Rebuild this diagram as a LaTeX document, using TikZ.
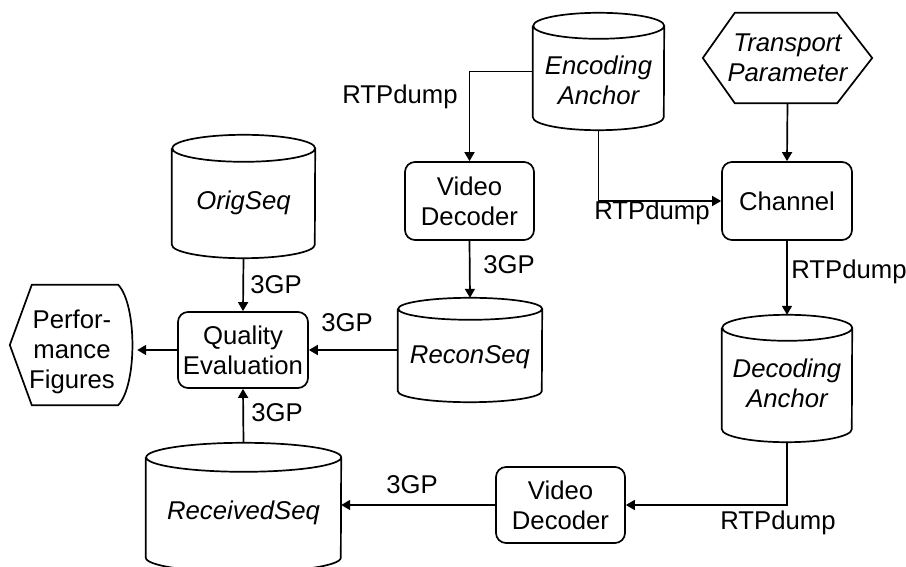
\documentclass[tikz,border=0pt]{standalone}
\usepackage{fontspec}
\setmainfont{Liberation Sans}
\usetikzlibrary{calc,arrows.meta}
\tikzset{
  ln/.style={line width=1.7pt},
  txt/.style={font=\fontsize{25.7pt}{30pt}\selectfont, align=center, inner sep=0pt},
  itxt/.style={txt, font=\fontsize{25.7pt}{30pt}\selectfont\itshape},
  procbox/.style={txt, ln, draw, rounded corners=10pt},
  shapebox/.style={inner sep=0pt, draw=none},
  arr/.style={ln, -{Triangle[length=9pt,width=10pt]}},
}
\newcommand\drawcyl[3]{%
  \draw[ln] ($(#1.north west)+(0,-#3)$) -- ($(#1.south west)+(0,#3)$)
    arc[start angle=180,end angle=360,x radius=#2pt,y radius=#3pt]
    -- ($(#1.north east)+(0,-#3)$)
    arc[start angle=0,end angle=180,x radius=#2pt,y radius=#3pt]
    arc[start angle=180,end angle=360,x radius=#2pt,y radius=#3pt];}
\begin{document}
\begin{tikzpicture}[x=1pt,y=1pt]
\path[use as bounding box, fill=white] (0,0) rectangle (906,566);

% process boxes
\node[procbox, minimum width=129pt, minimum height=78pt] (vd1) at (469.5,365) {Video\\Decoder};
\node[procbox, minimum width=130pt, minimum height=78pt] (ch) at (787,365) {Channel};
\node[procbox, minimum width=130pt, minimum height=76pt] (q) at (243,216) {Quality\\Evaluation};
\node[procbox, minimum width=129pt, minimum height=76pt] (vd2) at (560.5,61) {Video\\Decoder};

% cylinders
\node[shapebox, minimum width=143pt, minimum height=123pt] (orig) at (243.5,369.5) {};
\drawcyl{orig}{71.5}{13.5}
\node[itxt] (origt) at (243.5,363) {OrigSeq};

\node[shapebox, minimum width=131pt, minimum height=117pt] (enca) at (598.5,494.5) {};
\drawcyl{enca}{65.5}{13}
\node[itxt] (encat) at (598.5,486) {Encoding\\Anchor};

\node[shapebox, minimum width=144pt, minimum height=104pt] (recon) at (470,216) {};
\drawcyl{recon}{72}{11}
\node[itxt] (recont) at (470,209) {ReconSeq};

\node[shapebox, minimum width=130pt, minimum height=127pt] (deca) at (787,187.5) {};
\drawcyl{deca}{65}{13}
\node[itxt] (decat) at (787,183) {Decoding\\Anchor};

\node[shapebox, minimum width=195pt, minimum height=129pt] (recv) at (243.5,58.5) {};
\drawcyl{recv}{97.5}{14.5}
\node[itxt] (recvt) at (243.5,53) {ReceivedSeq};

% transport parameter hexagon
\node[shapebox, minimum width=169pt, minimum height=90pt] (tp) at (787.5,508) {};
\draw[ln] (tp.west) -- ($(tp.north west)+(32,0)$) -- ($(tp.north east)+(-35,0)$)
  -- (tp.east) -- ($(tp.south east)+(-35,0)$) -- ($(tp.south west)+(32,0)$) -- cycle;
\node[itxt] (tpt) at (787.5,508) {Transport\\Parameter};

% performance figures display shape
\node[shapebox, minimum width=122pt, minimum height=120pt] (pf) at (71,221) {};
\draw[ln] (pf.west) -- ($(pf.north west)+(22,0)$) -- ($(pf.north east)+(-14,0)$)
  .. controls ($(pf.north east)+(5,-20)$) and ($(pf.south east)+(5,20)$) .. ($(pf.south east)+(-14,0)$)
  -- ($(pf.south west)+(22,0)$) -- cycle;
\node[txt] (pft) at (72,214.5) {Perfor-\\mance\\Figures};

% connectors
\draw[arr] (enca.west) -| (vd1.north);
\draw[arr] (enca.south) |- (ch.west);
\draw[arr] (tp.south) -- (ch.north);
\draw[arr] (ch.south) -- (deca.north);
\draw[arr] (deca.south) |- (vd2.east);
\draw[arr] (vd2.west) -- (vd2.west -| recv.east);
\draw[arr] (recv.north) -- (q.south);
\draw[arr] (orig.south) -- (q.north);
\draw[arr] (vd1.south) -- (recon.north);
\draw[arr] (recon.west) -- (q.east);
\draw[arr] (q.west) -- ($(q.west -| pf.east)+(5,0)$);

% connector labels
\node[txt] (l1) at (400,469) {RTPdump};
\node[txt] (l2) at (652,353) {RTPdump};
\node[txt] (l3) at (849,294) {RTPdump};
\node[txt] (l4) at (778,43) {RTPdump};
\node[txt] (l5) at (412,81) {3GP};
\node[txt] (l6) at (277,153) {3GP};
\node[txt] (l7) at (276,281) {3GP};
\node[txt] (l8) at (509,301) {3GP};
\node[txt] (l9) at (347,243) {3GP};
\end{tikzpicture}
\end{document}
